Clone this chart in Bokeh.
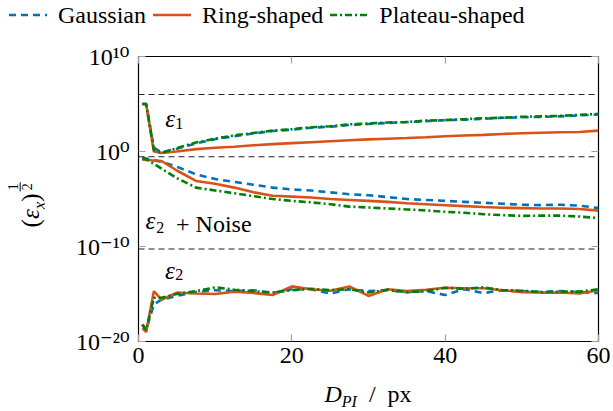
import numpy as np
from bokeh.plotting import figure
from bokeh.layouts import column, row
from bokeh.models import FixedTicker, LogAxis, LinearAxis, Label, Span, Div
from bokeh.embed import file_html
from bokeh.resources import INLINE

# Probe-interval diameter D_PI in pixels
d_pi = [0.5, 1, 2, 3, 5, 7.5, 10, 12.5, 15, 17.5, 20, 22.5, 25, 27.5, 30,
        32.5, 35, 37.5, 40, 42.5, 45, 47.5, 50, 52.5, 55, 57.5, 60]

# log10 of (eps_x)^(1/2) for each error term and particle shape
gauss_eps1_log = [5.0, 5.0, 0.4, -0.1, 0.3, 0.85, 1.3, 1.6, 1.9, 2.15, 2.3, 2.5, 2.6, 2.8,
                  2.9, 3.0, 3.1, 3.2, 3.3, 3.35, 3.45, 3.55, 3.6, 3.65, 3.7, 3.8, 3.9]
ring_eps1_log = [5.0, 5.0, 0.0, -0.15, 0.0, 0.25, 0.4, 0.5, 0.65, 0.78, 0.88, 0.98, 1.08, 1.18,
                 1.28, 1.35, 1.42, 1.5, 1.6, 1.68, 1.75, 1.85, 1.92, 1.97, 2.02, 2.05, 2.2]
plateau_eps1_log = [5.0, 5.0, 0.2, -0.15, 0.35, 0.95, 1.35, 1.7, 1.95, 2.2, 2.35, 2.55, 2.65, 2.85,
                    2.95, 3.05, 3.1, 3.25, 3.3, 3.4, 3.5, 3.55, 3.65, 3.7, 3.75, 3.85, 3.95]

gauss_noise_log = [-0.7, -0.75, -0.9, -1.1, -1.6, -2.4, -2.9, -3.2, -3.5, -3.8, -4.0, -4.1, -4.3, -4.5,
                   -4.6, -4.8, -5.0, -5.1, -5.2, -5.3, -5.4, -5.5, -5.6, -5.65, -5.6, -5.7, -5.95]
ring_noise_log = [-0.85, -0.9, -0.95, -1.0, -2.0, -3.1, -3.4, -3.8, -4.3, -4.65, -4.75, -4.85, -5.0, -5.1,
                  -5.2, -5.3, -5.45, -5.55, -5.65, -5.75, -5.85, -5.92, -5.96, -6.0, -6.0, -6.05, -6.22]
plateau_noise_log = [-0.75, -0.8, -1.3, -1.8, -2.8, -3.8, -4.1, -4.4, -4.7, -5.0, -5.2, -5.35, -5.55, -5.8,
                     -5.9, -6.0, -6.1, -6.2, -6.35, -6.45, -6.6, -6.7, -6.78, -6.75, -6.75, -6.85, -7.0]

gauss_eps2_log = [-18.2, -18.8, -16.1, -15.6, -15.2, -14.8, -14.6, -14.7, -14.6, -14.9, -14.5, -14.5, -14.95, -14.5,
                  -14.7, -14.6, -14.8, -14.7, -15.1, -14.5, -14.9, -14.6, -14.7, -14.8, -14.7, -14.8, -14.9]
ring_eps2_log = [-18.6, -19.0, -14.7, -15.6, -14.85, -14.95, -15.0, -14.75, -14.9, -15.1, -14.2, -14.5, -14.65, -14.2,
                 -15.2, -14.5, -14.7, -14.55, -14.35, -14.4, -14.4, -14.6, -14.8, -14.85, -14.85, -14.95, -14.6]
plateau_eps2_log = [-18.2, -18.8, -15.4, -15.4, -15.0, -14.7, -14.3, -14.55, -14.7, -14.85, -14.6, -14.45, -14.6, -14.5,
                    -14.85, -14.55, -14.8, -14.7, -14.35, -14.45, -14.3, -14.6, -14.65, -14.8, -14.75, -14.75, -14.5]

# Reference levels (dashed horizontal lines)
ref_levels = [1e6, 0.28, 5.4e-11]

y_ticks = [1e-20, 1e-10, 1e0, 1e10]
y_tick_labels = ["10\u207b\u00b2\u2070", "10\u207b\u00b9\u2070", "10\u2070", "10\u00b9\u2070"]
x_ticks = [0, 20, 40, 60]

shape_names = ["Gaussian", "Ring-shaped", "Plateau-shaped"]

SERIF = "'Liberation Serif', 'Times New Roman', 'DejaVu Serif', serif"
BLUE, RED, GREEN = "#0072BD", "#D95319", "#008000"

YLAB_W = 44   # width of the column holding the y-axis title
XLAB_H = 32   # height of the row holding the x-axis title
LEG_H = 30    # height of the legend row

p = figure(frame_width=460, frame_height=285, y_axis_type="log",
           x_range=(0, 60), y_range=(1e-20, 1e10),
           output_backend="svg", toolbar_location=None,
           min_border_left=138 - YLAB_W, min_border_right=15,
           min_border_top=56 - LEG_H, min_border_bottom=70 - XLAB_H,
           background_fill_color="white", border_fill_color="white")
p.xgrid.grid_line_color = None
p.ygrid.grid_line_color = None
p.outline_line_color = "black"
p.outline_line_width = 1.2

# main axes: ticks inside, serif labels
p.yaxis.ticker = FixedTicker(ticks=y_ticks)
p.yaxis.major_label_overrides = dict(zip(y_ticks, y_tick_labels))
p.xaxis.ticker = FixedTicker(ticks=x_ticks)
for ax in (p.xaxis[0], p.yaxis[0]):
    ax.axis_line_color = None
    ax.major_tick_in = 7
    ax.major_tick_out = 0
    ax.major_tick_line_color = "#a0a0a0"
    ax.major_tick_line_width = 1.2
    ax.minor_tick_line_color = None
    ax.major_label_text_font = SERIF
    ax.major_label_text_font_size = "24px"
    ax.major_label_text_color = "black"
p.yaxis.major_label_standoff = 9
p.xaxis.major_label_standoff = 6

# mirrored tick marks on the right and top edges (no labels)
right = LogAxis(ticker=FixedTicker(ticks=y_ticks), axis_line_color=None,
                major_tick_in=7, major_tick_out=0, major_tick_line_color="#a0a0a0",
                major_tick_line_width=1.2, minor_tick_line_color=None,
                major_label_overrides={t: "" for t in y_ticks}, major_label_standoff=0)
top = LinearAxis(ticker=FixedTicker(ticks=x_ticks), axis_line_color=None,
                 major_tick_in=7, major_tick_out=0, major_tick_line_color="#a0a0a0",
                 major_tick_line_width=1.2, minor_tick_line_color=None,
                 major_label_overrides={t: "" for t in x_ticks}, major_label_standoff=0)
p.add_layout(right, "right")
p.add_layout(top, "above")

for lvl in ref_levels:
    p.add_layout(Span(location=lvl, dimension="width", line_color="#222222",
                      line_width=1.1, line_dash="6 4"))

def vals(logs):
    return 10.0 ** np.array(logs)

styles = {
    "Gaussian": dict(line_color=BLUE, line_dash="7 5"),
    "Ring-shaped": dict(line_color=RED, line_dash="solid"),
    "Plateau-shaped": dict(line_color=GREEN, line_dash="7 3 2 3"),
}
series = {
    "Gaussian": (gauss_eps1_log, gauss_noise_log, gauss_eps2_log),
    "Ring-shaped": (ring_eps1_log, ring_noise_log, ring_eps2_log),
    "Plateau-shaped": (plateau_eps1_log, plateau_noise_log, plateau_eps2_log),
}
for name in shape_names:
    for c in series[name]:
        p.line(d_pi, vals(c), line_width=2.6, **styles[name])

def lab(x, y, text, size="24px", italic=False):
    p.add_layout(Label(x=x, y=y, text=text, text_font=SERIF, text_font_size=size,
                       text_font_style="italic" if italic else "normal",
                       text_baseline="alphabetic", text_color="black"))

# in-plot annotations
lab(3.5, 10 ** 3.44, "\u03b5", size="25px", italic=True)
lab(4.8, 10 ** 2.92, "1", size="16px")
lab(0.9, 10 ** -7.22, "\u03b5", size="25px", italic=True)
lab(2.3, 10 ** -8.03, "2", size="16px")
lab(4.9, 10 ** -7.61, "+ Noise")
lab(3.45, 10 ** -12.56, "\u03b5", size="25px", italic=True)
lab(4.8, 10 ** -12.98, "2", size="16px")

FONT_CSS = f"font-family:{SERIF}; color:black;".replace("'", '"')

# legend row: line sample + name for each particle shape
def sample(style):
    dash = style["line_dash"]
    dash_attr = "" if dash == "solid" else f' stroke-dasharray="{dash}"'
    return (f'<svg width="38" height="10" style="display:block; flex:none;">'
            f'<line x1="0" y1="5" x2="38" y2="5" stroke="{style["line_color"]}" '
            f'stroke-width="2.6"{dash_attr}/></svg>')

entries = "".join(
    f"{sample(styles[n])}<span style='margin:0 7px 0 11px; {FONT_CSS}'>{n}</span>"
    for n in shape_names)
legend_div = Div(
    width=613, height=LEG_H, margin=(0, 0, 0, 0),
    text=(f"<div style='width:613px; height:{LEG_H}px; box-sizing:border-box; "
          f"padding-left:9px; display:flex; align-items:center; white-space:nowrap; "
          f"font-size:24px; line-height:24px; {FONT_CSS}'>{entries}</div>"))

# axis titles as HTML text (sub/superscripts)
plot_h = (56 - LEG_H) + 285 + (70 - XLAB_H)
frac = ("<span style='display:inline-block; vertical-align:0.55em; text-align:center; "
        "font-size:14px; line-height:13px; margin-left:2px;'>"
        "<span style='display:block; border-bottom:1px solid black; padding:0 1px;'>1</span>"
        "<span style='display:block;'>2</span></span>")
ytitle = Div(
    width=YLAB_W, height=plot_h, margin=(0, 0, 0, 0),
    text=(f"<div style='width:{YLAB_W}px; height:{plot_h}px; box-sizing:border-box; "
          f"padding-left:16px; padding-top:{2 * (200 - LEG_H) - plot_h}px; display:flex; "
          f"align-items:center; justify-content:center; overflow:visible;'>"
          f"<span style='transform:rotate(-90deg); white-space:nowrap; font-size:25px; "
          f"line-height:25px; {FONT_CSS}'>(<i>\u03b5</i><sub style='font-size:17px;'>"
          f"<i>x</i></sub>){frac}</span></div>"))
xtitle = Div(
    width=613, height=XLAB_H, margin=(0, 0, 0, 0),
    text=(f"<div style='width:613px; height:{XLAB_H}px; box-sizing:border-box; "
          f"padding-left:123px; padding-top:3px; text-align:center; white-space:nowrap; "
          f"font-size:24px; line-height:24px; {FONT_CSS}'>"
          f"<i>D</i><sub style='font-size:16px; line-height:0; vertical-align:-0.3em;'>"
          f"<i>PI</i></sub>&nbsp; /&nbsp; px</div>"))

layout = column(legend_div, row(ytitle, p, spacing=0), xtitle, spacing=0)

open("out.html", "w").write(file_html(layout, INLINE))
